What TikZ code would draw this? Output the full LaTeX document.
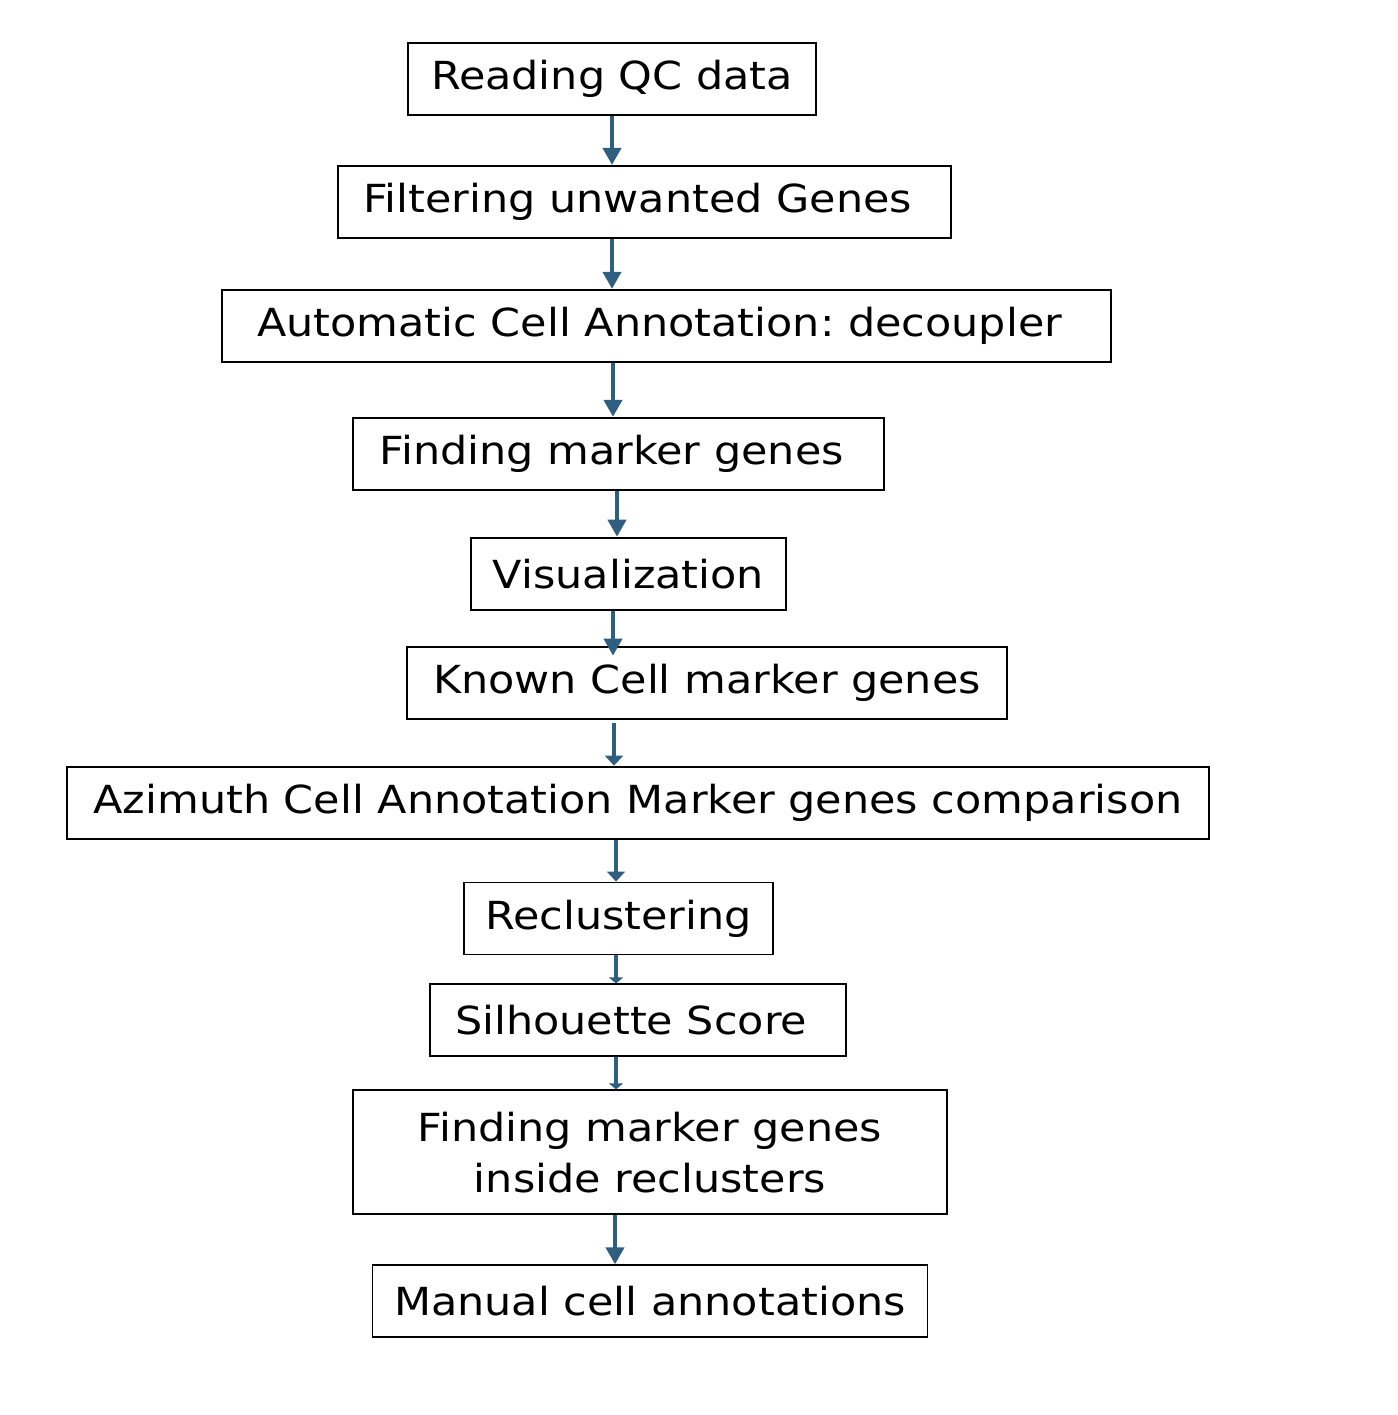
\documentclass[tikz,border=0pt]{standalone}
\usepackage{fontspec}
\setmainfont{DejaVu Sans}[FakeStretch=1.11]
\frenchspacing
\usetikzlibrary{positioning,arrows.meta}
\definecolor{flowblue}{HTML}{2E5F80}
\tikzset{
	stepbox/.style={draw=black,line width=1.1pt,minimum height=1.44cm,inner sep=0pt,align=center,font=\fontsize{22}{29}\selectfont},
	myarrow1/.style={-{Triangle[width=0.36cm,length=0.34cm]},draw=flowblue,line width=2.3pt},
	myarrow2/.style={-{Triangle[width=0.36cm,length=0.2cm]},draw=flowblue,line width=2.3pt},
	myarrow3/.style={-{Triangle[width=0.28cm,length=0.12cm]},draw=flowblue,line width=2.3pt}
}
\begin{document}
\begin{tikzpicture}
		\useasboundingbox (0,0) rectangle (27.94,-28.30);
		\node[stepbox,minimum width=8.16cm,anchor=north](read) at (12.24,-0.84){Reading QC data};
		\node[below = 0.98cm of read,xshift=0.65cm,stepbox,minimum width=12.26cm](filter){Filtering unwanted Genes\ };
		\node[below = 1.0cm of filter,xshift=0.44cm,stepbox,minimum width=17.78cm](auto){Automatic Cell Annotation: decoupler\ };
		\node[below = 1.08cm of auto,xshift=-0.96cm,stepbox,minimum width=10.62cm](marker){Finding marker genes\ };
		\node[below = 0.92cm of marker,xshift=0.2cm,stepbox,minimum width=6.30cm](visual){Visualization};
		\node[below = 0.70cm of visual,xshift=1.57cm,stepbox,minimum width=12.00cm](known){Known Cell marker genes};
		\node[below = 0.92cm of known,xshift=-1.38cm,stepbox,minimum width=22.84cm](azimuth){Azimuth Cell Annotation Marker genes comparison};
		\node[below = 0.84cm of azimuth,xshift=-0.39cm,stepbox,minimum width=6.18cm](recluster){Reclustering};
		\node[below = 0.56cm of recluster,xshift=0.39cm,stepbox,minimum width=8.32cm](silhouette){Silhouette Score\ };
		\node[below = 0.64cm of silhouette,xshift=0.24cm,stepbox,minimum width=11.88cm,minimum height=2.48cm](inside){Finding marker genes\\inside reclusters};
		\node[below = 0.98cm of inside,stepbox,minimum width=11.10cm](manual){Manual cell annotations};
		% arrow columns
		\coordinate (c1) at (12.24,0);
		\coordinate (c2) at (12.26,0);
		\coordinate (c3) at (12.34,0);
		\coordinate (c4) at (12.28,0);
		\coordinate (c5) at (12.32,0);
		\coordinate (c6) at (12.30,0);
		\draw[myarrow1] (read.south -| c1) -- (filter.north -| c1);
		\draw[myarrow1] (filter.south -| c1) -- (auto.north -| c1);
		\draw[myarrow1] (auto.south -| c2) -- (marker.north -| c2);
		\draw[myarrow1] (marker.south -| c3) -- (visual.north -| c3);
		\draw[myarrow1] (visual.south -| c2) -- ([yshift=-0.2cm]known.north -| c2);
		\draw[myarrow2] ([yshift=-0.06cm]known.south -| c4) -- (azimuth.north -| c4);
		\draw[myarrow2] (azimuth.south -| c5) -- (recluster.north -| c5);
		\draw[myarrow3] (recluster.south -| c5) -- (silhouette.north -| c5);
		\draw[myarrow3] (silhouette.south -| c5) -- (inside.north -| c5);
		\draw[myarrow1] (inside.south -| c6) -- (manual.north -| c6);
	\end{tikzpicture}
\end{document}
